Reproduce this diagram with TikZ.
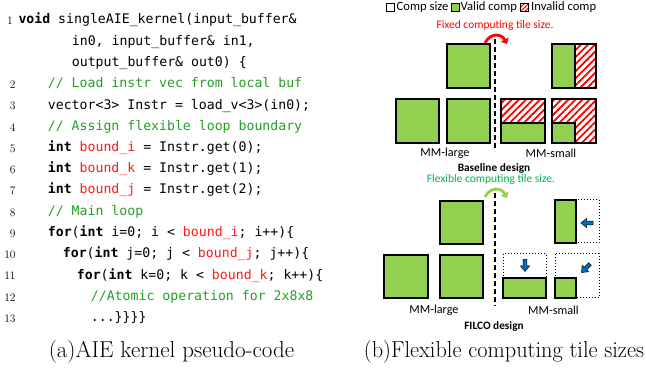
\documentclass[tikz,border=0pt]{standalone}
\usepackage{fontspec}
\usetikzlibrary{arrows.meta,patterns.meta}
\newfontfamily\codefont{DejaVu Sans Mono}
\newfontfamily\calfont{Carlito}
\definecolor{validgreen}{HTML}{92D050}
\definecolor{codered}{HTML}{FF1A1A}
\definecolor{codegreen}{HTML}{22A022}
\definecolor{flexgreen}{HTML}{00B050}
\definecolor{arrowblue}{HTML}{0070C0}
\def\bnd#1{\textcolor{codered}{bound\_#1}}
\def\kw#1{{\bfseries #1}}
\def\blockarrow(#1)(#2){\draw[blockarr, shift={(#1)}, rotate=#2] (0,0) -- (-5.5,4.5) -- (-5.5,1.8) -- (-12,1.8) -- (-12,-1.8) -- (-5.5,-1.8) -- (-5.5,-4.5) -- cycle;}
\tikzset{
  tile/.style={draw=black, line width=1.6pt, fill=validgreen},
  invalid/.style={draw=black, line width=1.6pt, pattern={Lines[angle=45,distance=5pt,line width=1.8pt]}, pattern color=red},
  compsize/.style={draw=black, line width=1pt, dotted},
  blockarr/.style={draw=black, line width=0.5pt, fill=arrowblue},
  codeline/.style={anchor=west, inner sep=0pt, text height=9.5pt, text depth=3pt, font=\codefont\fontsize{13.2}{15}\selectfont},
  lineno/.style={anchor=east, inner sep=0pt, text height=8pt, text depth=0pt, font=\fontsize{11.5}{13}\selectfont},
  tiletext/.style={inner sep=0pt, font=\calfont\fontsize{11.5}{13}\selectfont},
  sizetext/.style={inner sep=0pt, font=\calfont\fontsize{12.2}{14}\selectfont},
  legendtext/.style={anchor=west, inner sep=0pt, font=\calfont\fontsize{12.6}{15}\selectfont},
  divider/.style={line width=1.3pt, dash pattern=on 5pt off 3pt},
  turn/.style={line width=2.8pt, -{Triangle[length=5pt,width=8.5pt]}}
}
\begin{document}
\begin{tikzpicture}[x=1pt, y=-1pt]
  \useasboundingbox (0,0) rectangle (646,371);

  %%%%% CODE %%%%%
  \node[lineno] (ln1) at (13,20.7) {1};
  \foreach \n/\yy in {2/84.3,3/106,4/127.7,5/148.7,6/169.5,7/190.7,8/212.3,9/233.3,10/254.3,11/276,12/297.7,13/318.7}
    \node[lineno] (ln\n) at (15.8,\yy) {\n};

  \node[codeline] (c1) at (18.3,20.7) {\kw{void} singleAIE\_kernel(input\_buffer\&};
  \node[codeline] (c1b) at (71.7,42.7) {in0, input\_buffer\& in1,};
  \node[codeline] (c1c) at (71.7,63.3) {output\_buffer\& out0) \{};
  \node[codeline] (c2) at (47.7,84.3) {\textcolor{codegreen}{// Load instr vec from local buf}};
  \node[codeline] (c3) at (47.7,106) {vector<3> Instr = load\_v<3>(in0);};
  \node[codeline] (c4) at (47.7,127.7) {\textcolor{codegreen}{// Assign flexible loop boundary}};
  \node[codeline] (c5) at (47.7,148.7) {\kw{int} \bnd{i} = Instr.get(0);};
  \node[codeline] (c6) at (47.7,169.5) {\kw{int} \bnd{k} = Instr.get(1);};
  \node[codeline] (c7) at (47.7,190.7) {\kw{int} \bnd{j} = Instr.get(2);};
  \node[codeline] (c8) at (47.7,212.3) {\textcolor{codegreen}{// Main loop}};
  \node[codeline] (c9) at (47.7,233.3) {\kw{for}(\kw{int} i=0; i < \bnd{i}; i++)\{};
  \node[codeline] (c10) at (62.7,254.3) {\kw{for}(\kw{int} j=0; j < \bnd{j}; j++)\{};
  \node[codeline] (c11) at (76.7,276) {\kw{for}(\kw{int} k=0; k < \bnd{k}; k++)\{};
  \node[codeline] (c12) at (90.7,297.7) {\textcolor{codegreen}{//Atomic operation for 2x8x8}};
  \node[codeline] (c13) at (90.7,318.7) {...\}\}\}\}};

  %%%%% LEGEND %%%%%
  \draw[line width=1pt] (386,3.5) rectangle (394,11.5);
  \node[legendtext] (lgcomp) at (396.5,7.5) {Comp size};
  \draw[line width=1pt, fill=validgreen] (451,3.5) rectangle (459,11.5);
  \node[legendtext] (lgvalid) at (460.5,7.5) {Valid comp};
  \draw[line width=1pt, pattern={Lines[angle=45,distance=3pt,line width=1.1pt]}, pattern color=red] (520.5,3.5) rectangle (528.5,11.5);
  \node[legendtext] (lginvalid) at (531,7.5) {Invalid comp};

  %%%%% BASELINE %%%%%
  \node[tiletext, text=red] (fixed) at (495,25) {Fixed computing tile size.};
  \coordinate (fixL) at (485,43);
  \coordinate (fixR) at (507,44);
  \draw[turn, red] (fixL) .. controls (490,33) and (501,33) .. (fixR);
  \draw[divider] (495,39) -- (495,151);

  \draw[tile] (447,44) rectangle (490,88);
  \draw[invalid] (552,44) rectangle (596,88);
  \draw[tile] (552,44) rectangle (575,88);

  \draw[tile] (396,99) rectangle (439,143);
  \draw[tile] (447,99) rectangle (490,143);
  \draw[invalid] (501,99) rectangle (545,143);
  \draw[tile] (501,123) rectangle (545,143);
  \draw[invalid] (552,99) rectangle (596,143);
  \draw[tile] (552,123) rectangle (575,143);

  \node[sizetext] (blarge) at (445,153.5) {MM-large};
  \node[sizetext] (bsmall) at (551,153.5) {MM-small};
  \node[tiletext, font=\calfont\bfseries\fontsize{11.3}{13}\selectfont] (baseline) at (494,168) {Baseline design};

  %%%%% FILCO %%%%%
  \node[tiletext, text=flexgreen] (flex) at (491,179.5) {Flexible computing tile size.};
  \coordinate (flexL) at (485,197);
  \coordinate (flexR) at (507,198);
  \draw[turn, validgreen] (flexL) .. controls (490,187) and (501,187) .. (flexR);
  \draw[divider] (495,193) -- (495,306);

  \draw[tile] (440,201) rectangle (483,244);
  \draw[tile] (384,255) rectangle (428,298);
  \draw[tile] (440,255) rectangle (483,298);

  \draw[compsize] (555,200) rectangle (599,243);
  \draw[tile] (555,200) rectangle (576,243);
  \draw[compsize] (503,254) rectangle (546,298);
  \draw[tile] (503,278) rectangle (546,298);
  \draw[compsize] (555,254) rectangle (599,298);
  \draw[tile] (555,278) rectangle (576,298);

  \blockarrow(581,223)(180)
  \blockarrow(525,271.5)(-90)
  \blockarrow(581.5,272.5)(225)

  \node[sizetext] (flarge) at (434,310.5) {MM-large};
  \node[sizetext] (fsmall) at (553.5,310.5) {MM-small};
  \node[tiletext, font=\calfont\bfseries\fontsize{11.3}{13}\selectfont] (filco) at (494,326.5) {FILCO design};

  %%%%% CAPTIONS %%%%%
  \node[anchor=base, inner sep=0pt, font=\fontsize{23}{25}\selectfont] (capa) at (171.5,358) {(a)AIE kernel pseudo-code};
  \node[anchor=base, inner sep=0pt, font=\fontsize{23}{25}\selectfont] (capb) at (504,358) {\scalebox{0.97}[1]{(b)Flexible computing tile sizes}};
\end{tikzpicture}
\end{document}
